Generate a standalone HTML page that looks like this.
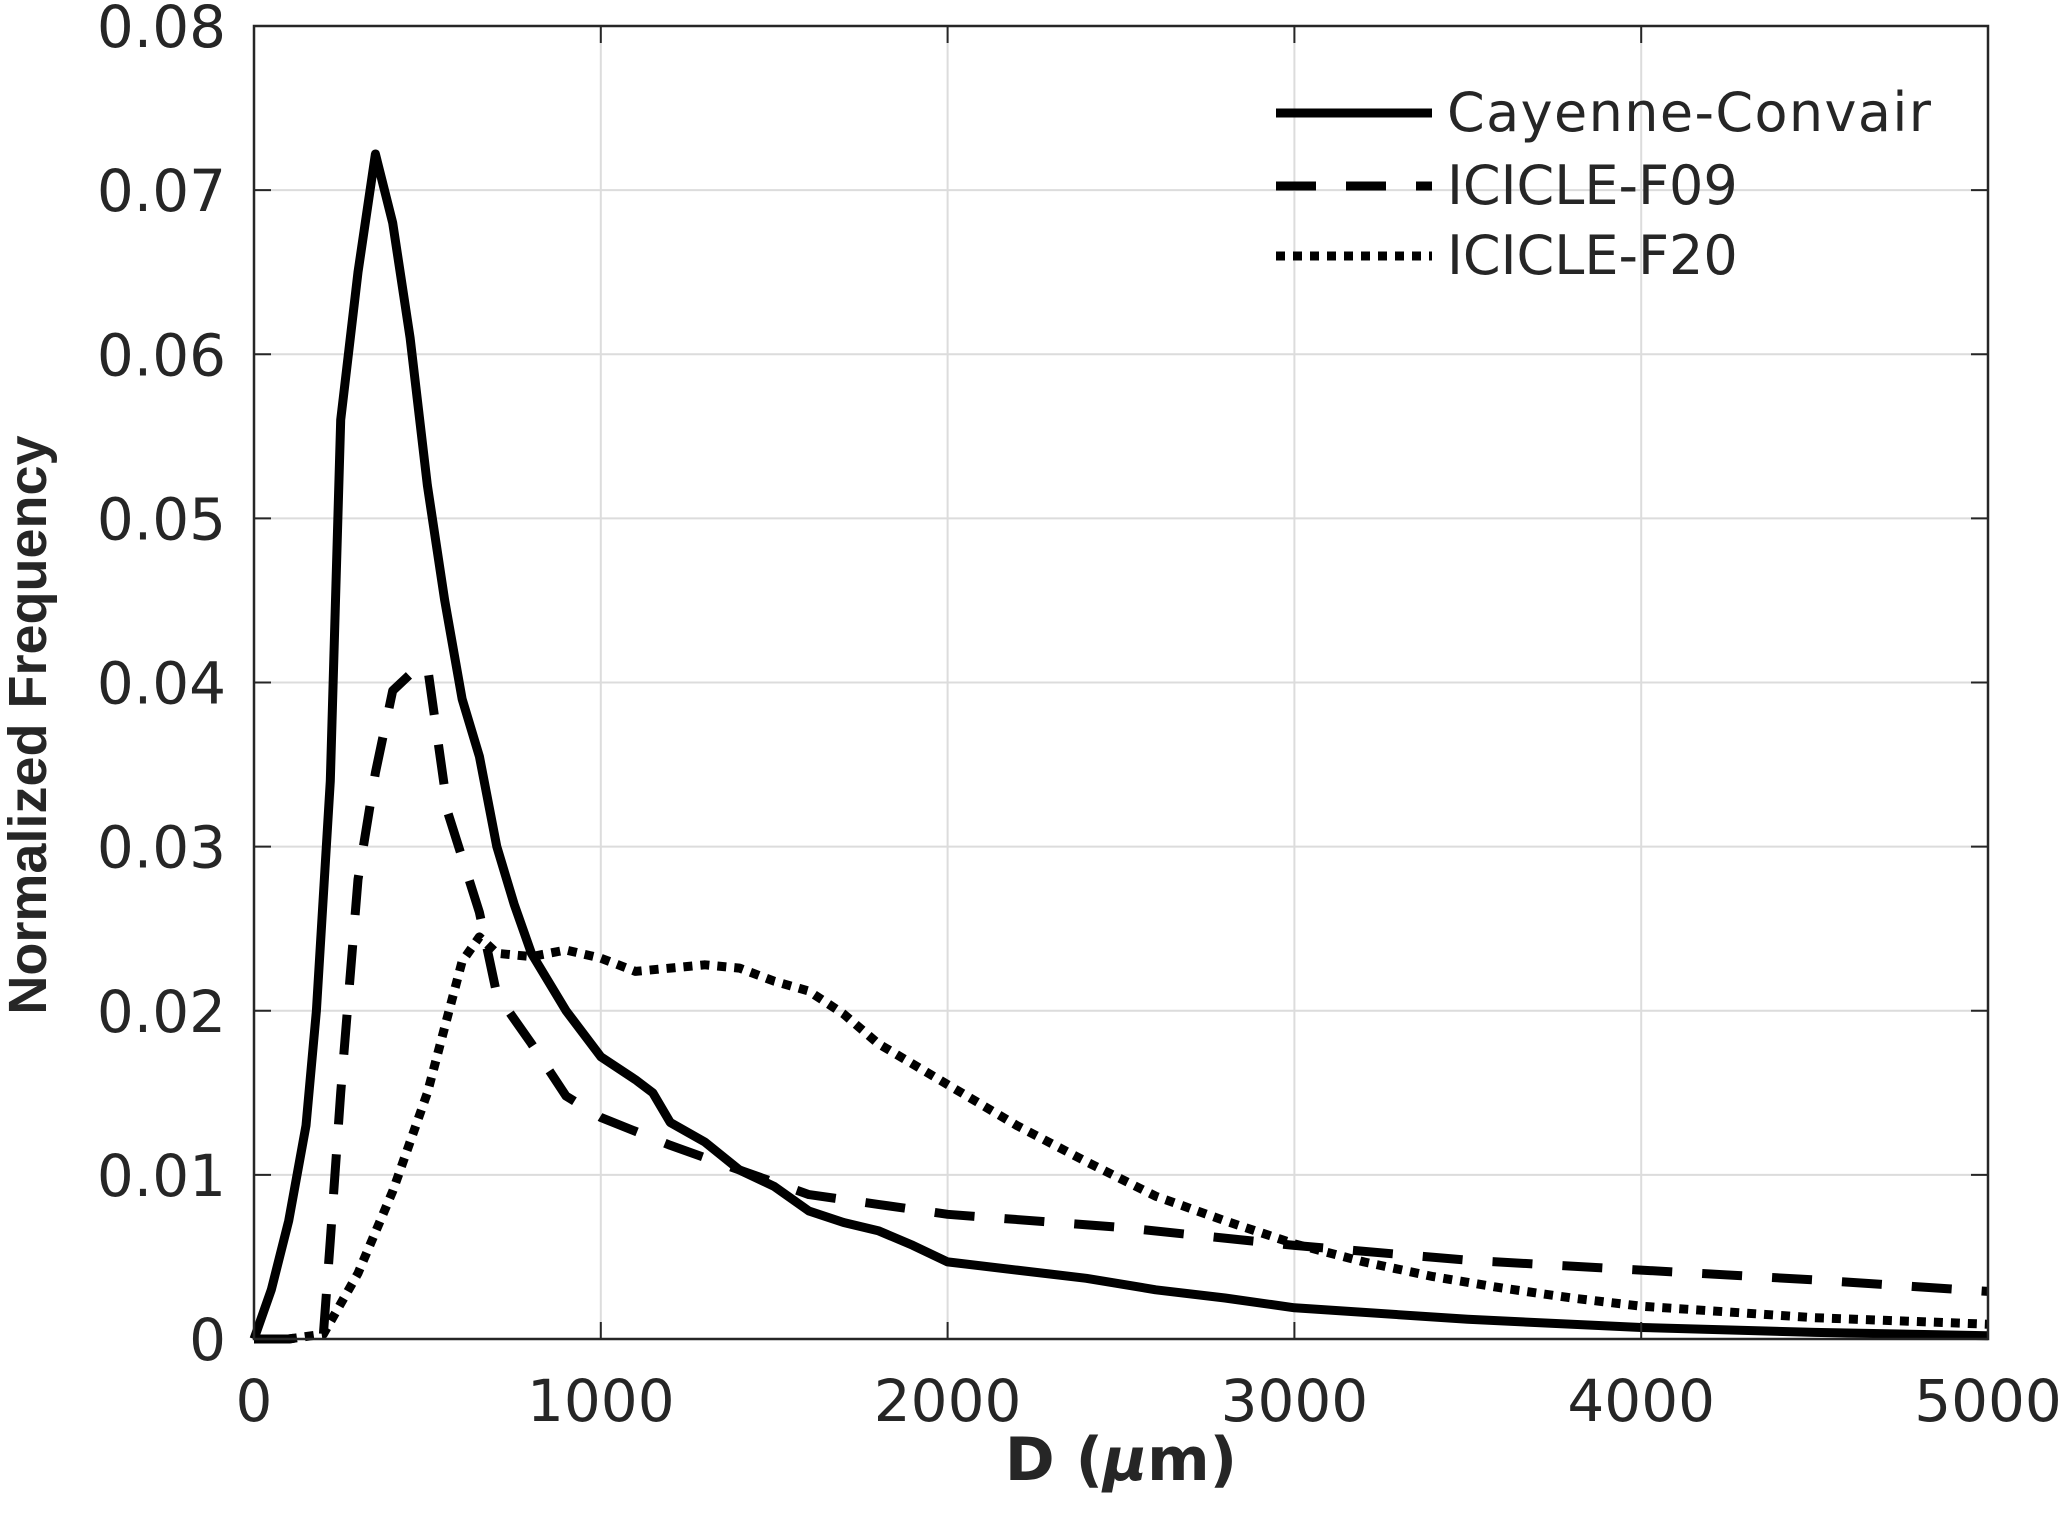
<!DOCTYPE html>
<html><head><meta charset="utf-8"><style>
html,body{margin:0;padding:0;background:#fff;}
svg{display:block;}
text{font-family:"DejaVu Sans","Liberation Sans",sans-serif;fill:#262626;}
</style></head><body>
<svg id="chart" width="2067" height="1525" viewBox="0 0 2067 1525" xmlns="http://www.w3.org/2000/svg">
<g id="grid"></g>
<g id="series"></g>
<rect x="254" y="26" width="1734" height="1313" fill="none" stroke="#262626" stroke-width="2.5"/>
<g id="ticks"></g>
<text x="1121" y="1480" text-anchor="middle" font-size="60" font-weight="bold">D (<tspan font-style="italic">μ</tspan>m)</text>
<text transform="translate(46,725) rotate(-90)" text-anchor="middle" font-size="54" font-weight="bold" style="font-family:'Liberation Sans',sans-serif" fill="#000">Normalized Frequency</text>
<g>
<line x1="1276" y1="113" x2="1432" y2="113" stroke="#000" stroke-width="9"/>
<text x="1447" y="131" font-size="54" fill="#000" textLength="484">Cayenne-Convair</text>
<line x1="1276" y1="186" x2="1432" y2="186" stroke="#000" stroke-width="9" stroke-dasharray="40,30"/>
<text x="1447" y="204" font-size="54" fill="#000">ICICLE-F09</text>
<line x1="1276" y1="256" x2="1432" y2="256" stroke="#000" stroke-width="9" stroke-dasharray="9,8"/>
<text x="1447" y="274" font-size="54" fill="#000">ICICLE-F20</text>
</g>
</svg>
<script>
const xTicks=[0,1000,2000,3000,4000,5000];
const yTicks=[0,0.01,0.02,0.03,0.04,0.05,0.06,0.07,0.08];
const yTickLabels=["0","0.01","0.02","0.03","0.04","0.05","0.06","0.07","0.08"];
const cayD=[0,50,100,150,180,220,250,300,350,400,450,500,550,600,650,700,750,800,900,1000,1100,1150,1200,1300,1400,1500,1600,1700,1800,1900,2000,2200,2400,2600,2800,3000,3500,4000,4500,5000];
const cayV=[0,0.003,0.0072,0.013,0.02,0.034,0.056,0.065,0.0722,0.068,0.061,0.052,0.045,0.039,0.0355,0.030,0.0265,0.0235,0.02,0.0172,0.0158,0.015,0.0132,0.012,0.0103,0.0093,0.0078,0.0071,0.0066,0.0057,0.0047,0.0042,0.0037,0.0030,0.0025,0.0019,0.0012,0.0007,0.0004,0.0002];
const f09D=[0,100,200,220,250,300,350,400,450,500,560,650,700,800,900,1000,1200,1400,1600,1800,2000,2500,3000,3500,4000,4500,5000];
const f09V=[0,0,0.0003,0.006,0.015,0.028,0.0345,0.0395,0.0405,0.041,0.032,0.026,0.021,0.018,0.0148,0.0135,0.0118,0.0103,0.0088,0.0082,0.0076,0.0068,0.0057,0.0048,0.0042,0.0036,0.0029];
const f20D=[0,100,200,300,400,500,550,600,650,700,800,900,1000,1100,1200,1300,1400,1500,1600,1700,1800,2000,2200,2400,2600,2800,3000,3200,3400,3600,3800,4000,4500,5000];
const f20V=[0,0,0.0003,0.004,0.009,0.015,0.019,0.023,0.0245,0.0235,0.0233,0.0237,0.0232,0.0224,0.0226,0.0228,0.0226,0.0218,0.0212,0.0198,0.018,0.0155,0.013,0.0108,0.0087,0.0072,0.0058,0.0047,0.0038,0.0031,0.0025,0.002,0.0013,0.0009];
const NS="http://www.w3.org/2000/svg";
const X0=254,X1=1988,Y0=1339,Y1=26;
function xs(d){return X0+(d-0)/(5000-0)*(X1-X0);}
function ys(v){return Y0-(v-0)/(0.08-0)*(Y0-Y1);}
const grid=document.getElementById('grid'),ticks=document.getElementById('ticks'),ser=document.getElementById('series');
function mk(tag,at,parent){const e=document.createElementNS(NS,tag);for(const k in at)e.setAttribute(k,at[k]);parent.appendChild(e);return e;}
xTicks.forEach(function(t){
  const x=xs(t);
  const g=mk('line',{x1:x,y1:Y1,x2:x,y2:Y0,stroke:'#dcdcdc','stroke-width':2},grid);
  
  
  const tk=mk('line',{x1:x,y1:Y0,x2:x,y2:Y0-17,stroke:'#262626','stroke-width':2},ticks);
  
  
  const tk2=mk('line',{x1:x,y1:Y1,x2:x,y2:Y1+17,stroke:'#262626','stroke-width':2},ticks);
  
  
  const lb=mk('text',{x:x,y:1421,'text-anchor':'middle','font-size':58},ticks);
  lb.textContent=String(t);
  
  
});
yTicks.forEach(function(t,i){
  const y=ys(t);
  const g=mk('line',{x1:X0,y1:y,x2:X1,y2:y,stroke:'#dcdcdc','stroke-width':2},grid);
  
  
  const tk=mk('line',{x1:X0,y1:y,x2:X0+17,y2:y,stroke:'#262626','stroke-width':2},ticks);
  
  
  const tk2=mk('line',{x1:X1,y1:y,x2:X1-17,y2:y,stroke:'#262626','stroke-width':2},ticks);
  
  
  const lb=mk('text',{x:226,y:y+21,'text-anchor':'end','font-size':58},ticks);
  lb.textContent=yTickLabels[i];
  
  
});
function line(D,V,dash,name){
  const pts=D.map(function(d,i){return xs(d).toFixed(1)+','+ys(V[i]).toFixed(1);}).join(' ');
  const p=mk('polyline',{points:pts,fill:'none',stroke:'#000','stroke-width':9,'stroke-linejoin':'round'},ser);
  if(dash)p.setAttribute('stroke-dasharray',dash);
  
  
}
line(f20D,f20V,'9,8','series-icicle-f20');
line(f09D,f09V,'40,30','series-icicle-f09');
line(cayD,cayV,null,'series-cayenne-convair');
</script>
</body></html>
